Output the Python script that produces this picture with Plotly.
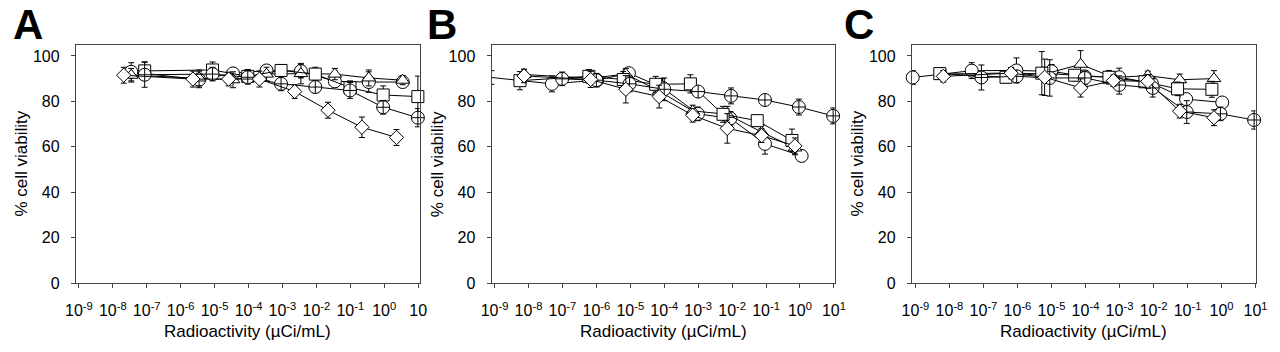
import plotly.graph_objects as go

# ---------------- data (concentration in uCi/mL, % cell viability, SD) ----------------
# Panel A
A_circle_x = [3.5e-8, 3.5e-6, 3.5e-5, 3.4e-4, 3.5e-3, 3.5e-2, 0.35, 3.5]
A_circle_y = [93.0, 89.5, 92.3, 93.6, 93.3, 88.8, 88.5, 88.5]
A_circle_e = [4.0, 3.5, 2.5, 2.0, 3.0, 2.5, 4.5, 2.0]
A_triangle_x = [3.5e-8, 3.5e-6, 3.5e-5, 3.4e-4, 3.5e-3, 3.5e-2, 0.35, 3.5]
A_triangle_y = [91.5, 90.3, 89.5, 92.0, 92.2, 92.0, 90.3, 89.3]
A_triangle_e = [3.0, 3.5, 3.5, 3.0, 4.5, 2.5, 3.5, 2.0]
A_square_x = [8.7e-8, 8.7e-6, 9.5e-5, 9.1e-4, 9.3e-3, 9.8e-2, 0.93, 9.8]
A_square_y = [93.4, 93.8, 91.0, 93.6, 92.0, 86.0, 82.8, 82.1]
A_square_e = [4.0, 3.5, 3.0, 2.5, 3.0, 3.0, 4.0, 9.0]
A_cross_x = [8.7e-8, 8.7e-6, 9.5e-5, 9.1e-4, 9.3e-3, 9.8e-2, 0.93, 9.8]
A_cross_y = [91.7, 92.0, 90.6, 87.7, 86.3, 84.8, 77.4, 72.8]
A_cross_e = [5.5, 3.0, 3.0, 3.0, 2.5, 3.5, 3.0, 4.0]
A_diamond_x = [2.1e-8, 2.3e-6, 2.6e-5, 2.1e-4, 2.3e-3, 2.2e-2, 0.22, 2.3]
A_diamond_y = [91.5, 89.8, 89.8, 89.8, 84.3, 76.1, 68.6, 64.1]
A_diamond_e = [3.5, 3.5, 3.0, 3.5, 3.0, 3.5, 4.5, 3.5]

# Panel B
B_circle_x = [8.1e-10, 4.9e-8, 1.05e-6, 9.1e-6, 8.9e-5, 9.8e-4, 8.9e-3, 9.3e-2, 1.12]
B_circle_y = [90.5, 87.7, 89.3, 92.4, 86.0, 74.5, 72.5, 61.3, 56.0]
B_circle_e = [3.0, 3.5, 2.0, 1.5, 4.0, 3.0, 3.0, 4.5, 1.0]
B_triangle_x = [7.4e-9, 6.8e-7, 7.4e-6, 7.1e-5, 6.9e-4, 7.2e-3, 7.4e-2, 0.71]
B_triangle_y = [91.8, 90.2, 92.0, 84.5, 75.8, 74.3, 66.5, 59.5]
B_triangle_e = [2.0, 2.5, 2.5, 3.0, 2.5, 3.5, 3.0, 3.0]
B_square_x = [5.6e-9, 6.0e-7, 6.2e-6, 5.6e-5, 5.9e-4, 5.4e-3, 5.5e-2, 0.58]
B_square_y = [89.1, 91.0, 89.6, 87.5, 87.7, 74.3, 71.5, 62.8]
B_square_e = [4.0, 3.0, 3.5, 3.5, 4.0, 3.5, 2.5, 5.0]
B_cross_x = [9.8e-8, 1.0e-6, 9.5e-6, 1.0e-4, 1.0e-3, 9.3e-3, 9.3e-2, 0.93, 9.5]
B_cross_y = [89.9, 89.3, 87.7, 85.3, 84.3, 82.4, 80.6, 77.5, 73.6]
B_cross_e = [3.0, 3.0, 3.5, 5.0, 2.0, 3.5, 1.5, 3.5, 3.5]
B_diamond_x = [7.4e-9, 6.8e-7, 7.4e-6, 7.1e-5, 6.9e-4, 7.2e-3, 7.4e-2, 0.71]
B_diamond_y = [91.2, 89.6, 85.3, 82.1, 73.9, 68.1, 64.9, 60.4]
B_diamond_e = [3.0, 3.5, 6.0, 5.0, 3.0, 6.5, 3.0, 3.5]

# Panel C
C_circle_x = [8.3e-10, 4.5e-8, 9.3e-7, 1.0e-5, 9.5e-5, 9.8e-4, 8.9e-3, 9.1e-2, 1.05]
C_circle_y = [90.5, 93.5, 93.6, 93.2, 91.0, 90.6, 88.0, 81.0, 79.5]
C_circle_e = [3.0, 3.5, 5.5, 3.0, 2.5, 4.0, 3.0, 2.5, 1.0]
C_triangle_x = [6.6e-9, 6.5e-7, 6.3e-6, 7.2e-5, 6.6e-4, 6.8e-3, 5.9e-2, 0.60]
C_triangle_y = [92.0, 92.5, 92.0, 96.3, 90.5, 91.3, 89.5, 90.0]
C_triangle_e = [2.0, 2.0, 3.0, 6.0, 2.5, 2.0, 2.5, 3.5]
C_square_x = [5.2e-9, 4.6e-7, 5.2e-6, 4.8e-5, 4.9e-4, 5.6e-3, 5.1e-2, 0.52]
C_square_y = [92.2, 90.6, 92.4, 91.5, 90.6, 88.6, 85.5, 85.3]
C_square_e = [2.5, 2.5, 9.5, 2.5, 3.0, 2.5, 3.0, 3.5]
C_cross_x = [8.7e-8, 9.5e-7, 8.9e-6, 9.5e-5, 9.8e-4, 9.5e-3, 9.5e-2, 0.93, 9.1]
C_cross_y = [90.5, 91.0, 90.3, 90.3, 87.2, 85.9, 75.3, 74.5, 71.8]
C_cross_e = [5.5, 2.5, 8.0, 3.0, 4.0, 4.0, 5.0, 3.0, 4.0]
C_diamond_x = [6.6e-9, 6.5e-7, 6.3e-6, 7.2e-5, 6.6e-4, 6.8e-3, 5.9e-2, 0.60]
C_diamond_y = [91.0, 92.4, 90.6, 85.9, 89.1, 88.8, 75.7, 72.8]
C_diamond_e = [2.5, 2.5, 8.0, 4.0, 2.5, 3.0, 3.0, 3.5]

tick_vals = [1e-9, 1e-8, 1e-7, 1e-6, 1e-5, 1e-4, 1e-3, 1e-2, 1e-1, 1e0, 1e1]
tick_text_A = ["10<sup>-9</sup>", "10<sup>-8</sup>", "10<sup>-7</sup>", "10<sup>-6</sup>", "10<sup>-5</sup>",
               "10<sup>-4</sup>", "10<sup>-3</sup>", "10<sup>-2</sup>", "10<sup>-1</sup>", "10<sup>0</sup>", "10"]
tick_text_BC = tick_text_A[:-1] + ["10<sup>1</sup>"]
y_ticks = [0, 20, 40, 60, 80, 100]
panel_letters = ["A", "B", "C"]
x_title = "Radioactivity (\u00b5Ci/mL)"
y_title = "% cell viability"

# ---------------- figure ----------------
FONT = "Liberation Sans, Arial, sans-serif"
W, H = 1280, 352
fig = go.Figure()

panels = {
    "A": [(A_circle_x, A_circle_y, A_circle_e, "circle"),
          (A_triangle_x, A_triangle_y, A_triangle_e, "triangle-up"),
          (A_square_x, A_square_y, A_square_e, "square"),
          (A_cross_x, A_cross_y, A_cross_e, "circle-cross"),
          (A_diamond_x, A_diamond_y, A_diamond_e, "diamond")],
    "B": [(B_circle_x, B_circle_y, B_circle_e, "circle"),
          (B_triangle_x, B_triangle_y, B_triangle_e, "triangle-up"),
          (B_square_x, B_square_y, B_square_e, "square"),
          (B_cross_x, B_cross_y, B_cross_e, "circle-cross"),
          (B_diamond_x, B_diamond_y, B_diamond_e, "diamond")],
    "C": [(C_circle_x, C_circle_y, C_circle_e, "circle"),
          (C_triangle_x, C_triangle_y, C_triangle_e, "triangle-up"),
          (C_square_x, C_square_y, C_square_e, "square"),
          (C_cross_x, C_cross_y, C_cross_e, "circle-cross"),
          (C_diamond_x, C_diamond_y, C_diamond_e, "diamond")],
}
sizes = {"circle": 13, "triangle-up": 12, "square": 12, "circle-cross": 13, "diamond": 11}

# plot-area geometry (pixels)
x_px = {"A": (66, 416), "B": (489.3, 839), "C": (917.3, 1267.3)}
x_rng = {"A": [-9.09, 1.04], "B": [-9.09, 1.03], "C": [-9.107, 1.0]}
y_top, y_bot = 45.7, 290.6
letter_x = {"A": 1, "B": 423, "C": 847}

for i, key in enumerate(["A", "B", "C"]):
    ax = "" if i == 0 else str(i + 1)
    for xs, ys, es, sym in panels[key]:
        fig.add_trace(go.Scatter(
            x=xs, y=ys, xaxis="x" + ax, yaxis="y" + ax, mode="lines+markers",
            line=dict(color="black", width=1),
            marker=dict(symbol=sym, size=sizes[sym], color="white",
                        line=dict(color="black", width=1)),
            error_y=dict(type="data", array=es, visible=True, color="black",
                         thickness=1, width=3),
            cliponaxis=False, showlegend=False))
    x0, x1 = x_px[key]
    axis_common = dict(showline=True, linecolor="#444", linewidth=1, mirror=True,
                       ticks="outside", ticklen=4, tickwidth=1, tickcolor="#444",
                       showgrid=False, zeroline=False,
                       tickfont=dict(family=FONT, size=16, color="black"))
    fig.layout["xaxis" + ax] = dict(
        axis_common, type="log", domain=[x0 / W, x1 / W], range=x_rng[key],
        anchor="y" + ax, tickmode="array", tickvals=tick_vals, ticklabelstandoff=9,
        ticktext=tick_text_A if key == "A" else tick_text_BC)
    fig.layout["yaxis" + ax] = dict(
        axis_common, domain=[(H - y_bot) / H, (H - y_top) / H], range=[0, 105],
        anchor="x" + ax, tickmode="array", tickvals=y_ticks, ticklabelstandoff=8)
    # axis titles
    fig.add_annotation(text=x_title, xref="paper", yref="paper",
                       x=(x0 + x1) / 2 / W, y=(H - 340) / H, xanchor="center", yanchor="middle",
                       showarrow=False, font=dict(family=FONT, size=17, color="black"))
    fig.add_annotation(text=y_title, xref="paper", yref="paper", textangle=-90,
                       x=(x0 - 55) / W, y=(H - 168) / H, xanchor="center", yanchor="middle",
                       showarrow=False, font=dict(family=FONT, size=17, color="black"))
    fig.add_annotation(text="<b>%s</b>" % panel_letters[i], xref="paper", yref="paper",
                       x=letter_x[key] / W, y=1.0, xanchor="left", yanchor="top",
                       showarrow=False, borderpad=0,
                       font=dict(family=FONT, size=42, color="black"))

fig.update_layout(width=W, height=H, margin=dict(l=0, r=0, t=0, b=0),
                  paper_bgcolor="white", plot_bgcolor="white",
                  font=dict(family=FONT, color="black"))
fig.write_html("out.html")
